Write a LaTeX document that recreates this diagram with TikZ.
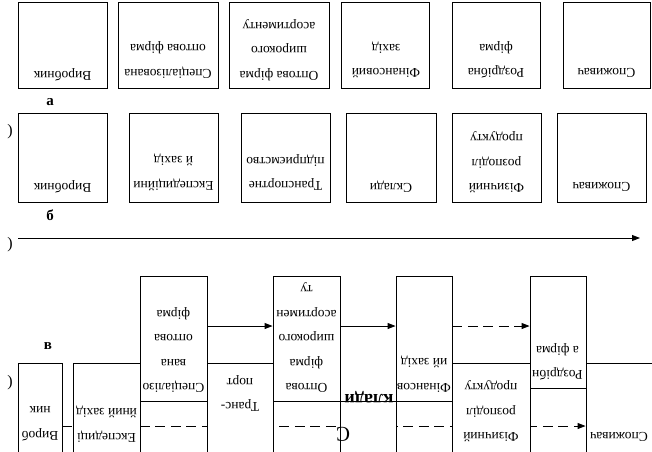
\documentclass[tikz,border=0pt]{standalone}
\usepackage{fontspec}
\setmainfont{Liberation Serif}
\usetikzlibrary{arrows.meta,backgrounds}
\tikzset{
  blok/.style={draw, fill=white, line width=0.9pt, inner sep=0pt},
  napys/.style={rotate=180, align=center, inner sep=0pt, font=\fontsize{13.5}{24.5}\selectfont},
  mitka/.style={inner sep=0pt, font=\fontsize{15}{18}\selectfont\bfseries},
  duzhka/.style={inner sep=0pt, font=\fontsize{16}{18}\selectfont},
  strilka/.style={line width=0.9pt, -{Triangle[length=8pt,width=6pt]}},
  puntyr/.style={strilka, dash pattern=on 10pt off 5.5pt}
}
\begin{document}
\begin{tikzpicture}[x=1pt,y=-1pt]
  \useasboundingbox (0,0) rectangle (652,451);
  \clip (0,0) rectangle (652,451);

  \node[blok, minimum width=89pt, minimum height=86pt] (a1) at (62.5,45) {};
  \node[napys] (a1t) at (62.5,75) {Виробник};
  \node[blok, minimum width=100pt, minimum height=86pt] (a2) at (168,45) {};
  \node[napys] (a2t) at (168,60) {Спеціалізована\\оптова фірма};
  \node[blok, minimum width=100pt, minimum height=86pt] (a3) at (279,45) {};
  \node[napys] (a3t) at (279,50) {Оптова фірма\\широкого\\асортименту};
  \node[blok, minimum width=88pt, minimum height=86pt] (a4) at (385,45) {};
  \node[napys] (a4t) at (386,60) {Фінансовий\\захід};
  \node[blok, minimum width=88pt, minimum height=86pt] (a5) at (496,45) {};
  \node[napys] (a5t) at (496,60) {Роздрібна\\фірма};
  \node[blok, minimum width=87pt, minimum height=86pt] (a6) at (606.5,45) {};
  \node[napys] (a6t) at (606.5,73) {Споживач};
  \node[mitka] (la) at (50,102) {а};

  \node[duzhka] (db) at (10,132) {)};
  \node[blok, minimum width=89pt, minimum height=89pt] (b1) at (62.5,157.5) {};
  \node[napys] (b1t) at (62.5,187) {Виробник};
  \node[blok, minimum width=89pt, minimum height=89pt] (b2) at (173.5,157.5) {};
  \node[napys] (b2t) at (173.5,172.5) {Експедиційни\\й захід};
  \node[blok, minimum width=89pt, minimum height=89pt] (b3) at (285.5,157.5) {};
  \node[napys] (b3t) at (285.5,172.5) {Транспортне\\підприємство};
  \node[blok, minimum width=90pt, minimum height=89pt] (b4) at (391,157.5) {};
  \node[napys] (b4t) at (391,187) {Склади};
  \node[blok, minimum width=89pt, minimum height=89pt] (b5) at (496.5,157.5) {};
  \node[napys] (b5t) at (496.5,162.5) {Фізичний\\розподіл\\продукту};
  \node[blok, minimum width=89pt, minimum height=89pt] (b6) at (601.5,157.5) {};
  \node[napys] (b6t) at (601.5,187) {Споживач};
  \node[mitka] (lb) at (50,215) {б};

  \node[duzhka] (dv) at (10,245) {)};
  \coordinate (vis0) at (18,238);
  \coordinate (vis1) at (640,238);
  \draw[strilka] (vis0) -- (vis1);

  \node[mitka] (lv) at (48,346) {в};
  \node[duzhka] (dc) at (10,383) {)};
  \node[blok, minimum width=44pt, minimum height=97pt] (c1) at (40,411.5) {};
  \node[napys] (c1t) at (40,424) {Вироб\\ник};
  \node[blok, minimum width=67pt, minimum height=97pt] (c2) at (106.5,411.5) {};
  \node[napys] (c2t) at (106.5,424) {Експедиці\\йний захід};
  \node[blok, minimum width=67pt, minimum height=125pt] (c3) at (173.5,338.5) {};
  \node[napys] (c3t) at (173.5,350) {Спеціалізо\\вана\\оптова\\фірма};
  \node[blok, minimum width=66pt, minimum height=97pt] (c4) at (240,411.5) {};
  \node[napys] (c4t) at (240,393.5) {Транс-\\порт};
  \node[blok, minimum width=67pt, minimum height=125pt] (c5) at (306.5,338.5) {};
  \node[napys] (c5t) at (306.5,338) {Оптова\\фірма\\широкого\\асортимен\\ту};
  \node[blok, minimum width=56pt, minimum height=59pt] (c6) at (368,430.5) {};
  \node[napys, font=\fontsize{18}{22}\selectfont\bfseries] (c6t) at (369,397) {клади};
  \node[napys, font=\fontsize{21}{24}\selectfont] (c6s) at (343,434) {С};
  \node[blok, minimum width=56pt, minimum height=125pt] (c7) at (424,338.5) {};
  \node[napys] (c7t) at (424,374) {Фінансов\\ий захід};
  \node[blok, minimum width=78pt, minimum height=97pt] (c8) at (491,411.5) {};
  \node[napys] (c8t) at (491,411.5) {Фізичний\\розподіл\\продукту};
  \node[blok, minimum width=56pt, minimum height=112pt] (c9) at (558,332) {};
  \node[napys] (c9t) at (557.5,362) {Роздрібн\\а фірма};
  \node[blok, minimum width=66pt, minimum height=97pt] (c10) at (619,411.5) {};
  \node[napys] (c10t) at (619,437) {Споживач};

  \draw[strilka] ([yshift=12.5pt]c3.east) -- ([yshift=12.5pt]c5.west);
  \draw[strilka] ([yshift=12.5pt]c5.east) -- ([yshift=12.5pt]c7.west);
  \draw[puntyr] ([yshift=12.5pt]c7.east) -- ([yshift=6pt]c9.west);
  \begin{scope}[on background layer]
    \draw[puntyr] ([yshift=-14.5pt]c1.east) -- ([yshift=-14.5pt]c10.west);
  \end{scope}
\end{tikzpicture}
\end{document}
